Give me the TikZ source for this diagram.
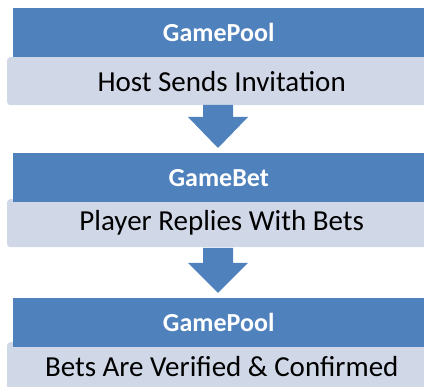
\documentclass[tikz,border=0pt]{standalone}
\usepackage{fontspec}
\setmainfont{Carlito}
\definecolor{hdrblue}{HTML}{4F81BD}
\definecolor{bodylight}{HTML}{D0D8E8}
\begin{document}
\begin{tikzpicture}[x=1pt,y=-1pt,
  hdr/.style={fill=hdrblue, draw=none, text=white, font=\fontsize{26}{30}\selectfont\bfseries,
    minimum width=411pt, minimum height=49pt, inner sep=0pt, anchor=north west},
  bodybox/.style={fill=bodylight, draw=none, rounded corners=3pt, text=black, font=\fontsize{29}{34}\selectfont,
    minimum width=423pt, minimum height=48pt, inner sep=0pt, anchor=north west},
  downarrow/.style={fill=hdrblue, draw=none}]
\useasboundingbox (0,0) rectangle (424,387);
\node[bodybox] (b1) at (7,57) {\hspace*{6pt}Host Sends Invitation};
\node[hdr] (h1) at (13,8) {GamePool};
\node[bodybox] (b2) at (7,199) {\hspace*{6pt}Player Replies With Bets};
\node[hdr] (h2) at (13,153) {GameBet};
\node[bodybox] (b3) at (7,342) {\hspace*{6pt}Bets Are Verified \& Confirmed};
\node[hdr] (h3) at (13,298) {GamePool};
% arrows
\fill[downarrow] (203,105) -- (233,105) -- (233,117) -- (248,117) -- (218,148) -- (188,117) -- (203,117) -- cycle;
\fill[downarrow] (203,248) -- (233,248) -- (233,263) -- (248,263) -- (218,293) -- (188,263) -- (203,263) -- cycle;
\end{tikzpicture}
\end{document}
